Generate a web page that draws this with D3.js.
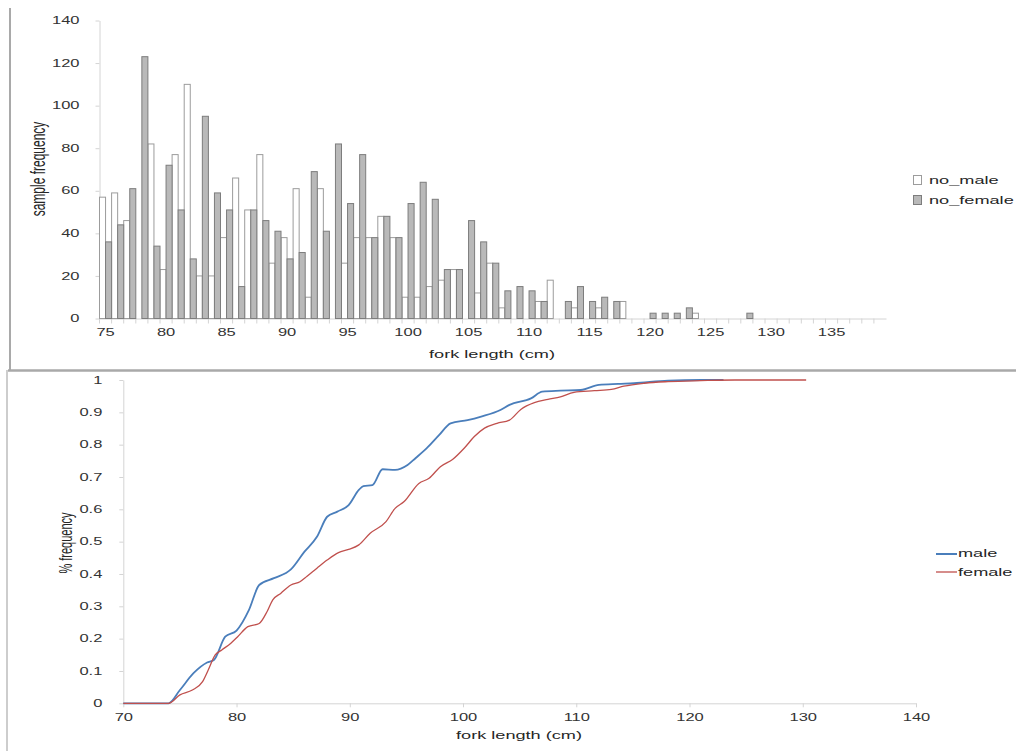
<!DOCTYPE html>
<html>
<head>
<meta charset="utf-8">
<style>
  body { margin: 0; background: #fff; }
  svg { display: block; font-family: "Liberation Sans", Arial, sans-serif; }
  .tick text { fill: #333; }
</style>
</head>
<body>
<svg width="1016" height="751"></svg>

<script src="https://d3js.org/d3.v7.min.js"></script>
<script>
// ---------------- data: top chart (counts per 1 cm fork length class) ----------------
const lenClasses = [75, 76, 77, 78, 79, 80, 81, 82, 83, 84, 85, 86, 87, 88, 89, 90, 91, 92, 93, 94,
  95, 96, 97, 98, 99, 100, 101, 102, 103, 104, 105, 106, 107, 108, 109, 110, 111, 112, 113, 114,
  115, 116, 117, 118, 119, 120, 121, 122, 123, 124, 125, 126, 127, 128, 129, 130, 131, 132, 133, 134,
  135, 136, 137, 138, 139];
const noMale = [57, 59, 46, 0, 82, 23, 77, 110, 20, 20, 38, 66, 51, 77, 26, 38, 61, 10, 61, 0,
  26, 38, 38, 48, 38, 10, 10, 15, 18, 23, 0, 12, 26, 5, 0, 0, 8, 18, 0, 5,
  0, 5, 0, 8, 0, 0, 0, 0, 0, 2.5, 0, 0, 0, 0, 0, 0, 0, 0, 0, 0,
  0, 0, 0, 0, 0];
const noFemale = [36, 44, 61, 123, 34, 72, 51, 28, 95, 59, 51, 15, 51, 46, 41, 28, 31, 69, 41, 82,
  54, 77, 38, 48, 38, 54, 64, 56, 23, 23, 46, 36, 26, 13, 15, 13, 8, 0, 8, 15,
  8, 10, 8, 0, 0, 2.5, 2.5, 2.5, 5, 0, 0, 0, 0, 2.5, 0, 0, 0, 0, 0, 0,
  0, 0, 0, 0, 0];
const countTicks = [0, 20, 40, 60, 80, 100, 120, 140];
const classLabels = [75, 80, 85, 90, 95, 100, 105, 110, 115, 120, 125, 130, 135];

// ---------------- data: bottom chart (cumulative frequency) ----------------
const maleLen = [70, 73, 74, 75, 76.2, 77.4, 78, 79, 80, 81.1, 82, 83.3, 84.8, 86, 87.1, 88, 88.9, 89.9,
  90.8, 91.2, 92, 92.9, 94, 95.1, 95.8, 96.8, 97.9, 98.9, 100.4, 101.6, 103.3, 104.1, 106, 107,
  108.6, 110.4, 112, 113.7, 115.1, 118.1, 121, 123];
const maleCum = [0, 0, 0, 0.041, 0.093, 0.126, 0.134, 0.206, 0.225, 0.289, 0.366, 0.387, 0.414, 0.469, 0.515, 0.577, 0.593, 0.613,
  0.66, 0.672, 0.675, 0.724, 0.722, 0.737, 0.758, 0.789, 0.83, 0.866, 0.876, 0.887, 0.907, 0.923, 0.943, 0.964,
  0.967, 0.969, 0.985, 0.988, 0.99, 0.998, 1, 1];
const femaleLen = [70, 73, 74, 75, 76.1, 77, 77.5, 78.1, 78.7, 79.5, 80.1, 81, 82, 82.7, 83.2, 83.9, 84.8, 85.6,
  86.2, 87.1, 88, 89, 89.9, 90.8, 91.8, 93.2, 94, 94.8, 96.1, 97, 98, 99.1, 100.1, 101, 101.9, 103,
  104.1, 105.1, 106.3, 107.5, 108.6, 109.8, 111.6, 113.1, 114.2, 116, 118.1, 121, 124, 130.3];
const femaleCum = [0, 0, 0, 0.026, 0.041, 0.067, 0.103, 0.149, 0.165, 0.186, 0.206, 0.237, 0.247, 0.284, 0.32, 0.34, 0.366, 0.376,
  0.392, 0.418, 0.443, 0.466, 0.476, 0.49, 0.526, 0.562, 0.603, 0.624, 0.68, 0.696, 0.732, 0.755, 0.789, 0.825, 0.851, 0.866,
  0.876, 0.909, 0.93, 0.94, 0.948, 0.962, 0.967, 0.971, 0.981, 0.99, 0.995, 0.998, 1, 1];
const lenTicks = [70, 80, 90, 100, 110, 120, 130, 140];
const cumTicks = [0, 0.1, 0.2, 0.3, 0.4, 0.5, 0.6, 0.7, 0.8, 0.9, 1];

// the picture is stretched sideways, so text is too
const SX = 1.65;
const axisGrey = "#d4d4d4";

let svg = d3.select("svg");

// helper for stretched free text
function label(g, x, y, txt, size, anchor, rot) {
  return g.append("text")
    .attr("transform", `translate(${x},${y}) scale(${SX},1)` + (rot ? ` rotate(${rot})` : ""))
    .attr("text-anchor", anchor || "start")
    .attr("dominant-baseline", "central")
    .attr("font-size", size)
    .attr("fill", "#262626")
    .text(txt);
}

//---------------- frames ----------------
svg.append("line").attr("x1", 10).attr("x2", 10).attr("y1", 8).attr("y2", 370)
  .attr("stroke", "#a9a9a9").attr("stroke-width", 2);
svg.append("line").attr("x1", 8).attr("x2", 1016).attr("y1", 370.5).attr("y2", 370.5)
  .attr("stroke", "#a9a9a9").attr("stroke-width", 2.5);
svg.append("line").attr("x1", 7).attr("x2", 7).attr("y1", 370).attr("y2", 751)
  .attr("stroke", "#bdbdbd").attr("stroke-width", 1.5);

//================ TOP: histogram ================
let histG = svg.append("g");

let x1 = d3.scaleBand().domain(lenClasses).range([99.5, 886]).padding(0);
let y1 = d3.scaleLinear().domain([0, 140]).range([318.5, 20.5]);

// y axis
histG.append("g")
  .attr("transform", "translate(99.5,0)")
  .call(d3.axisLeft(y1).tickValues(countTicks).tickSize(4).tickSizeOuter(0))
  .call(g => g.selectAll("line, path").attr("stroke", axisGrey))
  .call(g => g.selectAll("text")
    .attr("font-size", 10)
    .attr("x", -20 / SX)
    .attr("transform", `scale(${SX},1)`));

// x axis: labels every 5 cm
histG.append("g")
  .attr("transform", "translate(0,318.5)")
  .call(d3.axisBottom(x1).tickValues(classLabels).tickSize(0).tickPadding(10))
  .call(g => g.select(".domain").attr("stroke", axisGrey))
  .call(g => g.selectAll("text")
    .attr("font-size", 10)
    .attr("transform", `scale(${SX},1)`));

// tick marks between classes
histG.append("g").selectAll("line")
  .data(lenClasses)
  .join("line")
  .attr("x1", d => x1(d)).attr("x2", d => x1(d))
  .attr("y1", 318.5).attr("y2", 323.5)
  .attr("stroke", axisGrey);

let bw = x1.bandwidth() / 2;

// male bars (white)
histG.append("g").selectAll("rect")
  .data(lenClasses.map((c, i) => ({c: c, v: noMale[i]})).filter(d => d.v > 0))
  .join("rect")
  .attr("x", d => x1(d.c))
  .attr("y", d => y1(d.v))
  .attr("width", bw)
  .attr("height", d => y1(0) - y1(d.v))
  .attr("fill", "#ffffff")
  .attr("stroke", "#9c9c9c")
  .attr("stroke-width", 1);

// female bars (grey)
histG.append("g").selectAll("rect")
  .data(lenClasses.map((c, i) => ({c: c, v: noFemale[i]})).filter(d => d.v > 0))
  .join("rect")
  .attr("x", d => x1(d.c) + bw)
  .attr("y", d => y1(d.v))
  .attr("width", bw)
  .attr("height", d => y1(0) - y1(d.v))
  .attr("fill", "#b9b9b9")
  .attr("stroke", "#7d7d7d")
  .attr("stroke-width", 1);

// titles
label(histG, 492, 354, "fork length (cm)", 11, "middle");
label(histG, 38, 169, "sample frequency", 12, "middle", -90);

// legend
histG.append("rect").attr("x", 913.5).attr("y", 175.5).attr("width", 8).attr("height", 9)
  .attr("fill", "#fff").attr("stroke", "#9c9c9c");
histG.append("rect").attr("x", 913.5).attr("y", 195.5).attr("width", 8).attr("height", 9)
  .attr("fill", "#b9b9b9").attr("stroke", "#7d7d7d");
label(histG, 929, 180, "no_male", 11);
label(histG, 929, 200, "no_female", 11);

//================ BOTTOM: cumulative curves ================
let cumG = svg.append("g");

let x2 = d3.scaleLinear().domain([70, 140]).range([123.3, 916]);
let y2 = d3.scaleLinear().domain([0, 1]).range([703.3, 380]);

cumG.append("g")
  .attr("transform", "translate(123.3,0)")
  .call(d3.axisLeft(y2).tickValues(cumTicks).tickFormat(d3.format("~g")).tickSize(4).tickSizeOuter(0))
  .call(g => g.selectAll("line, path").attr("stroke", axisGrey))
  .call(g => g.selectAll("text")
    .attr("font-size", 10)
    .attr("x", -21 / SX)
    .attr("transform", `scale(${SX},1)`));

cumG.append("g")
  .attr("transform", "translate(0,703.3)")
  .call(d3.axisBottom(x2).tickValues(lenTicks).tickSize(4).tickSizeOuter(0).tickPadding(7))
  .call(g => g.selectAll("line, path").attr("stroke", axisGrey))
  .call(g => g.selectAll("text")
    .attr("font-size", 10)
    .attr("transform", `scale(${SX},1)`));

let line = d3.line()
  .x(d => x2(d[0]))
  .y(d => y2(d[1]))
  .curve(d3.curveMonotoneX);

cumG.append("path")
  .attr("d", line(maleLen.map((v, i) => [v, maleCum[i]])))
  .attr("fill", "none")
  .attr("stroke", "#4a7ebb")
  .attr("stroke-width", 1.8);

cumG.append("path")
  .attr("d", line(femaleLen.map((v, i) => [v, femaleCum[i]])))
  .attr("fill", "none")
  .attr("stroke", "#c0504d")
  .attr("stroke-width", 1.3);

label(cumG, 519, 735, "fork length (cm)", 11, "middle");
label(cumG, 65, 543, "% frequency", 11, "middle", -90);

// legend
cumG.append("line").attr("x1", 936).attr("x2", 957).attr("y1", 554).attr("y2", 554)
  .attr("stroke", "#4a7ebb").attr("stroke-width", 2);
cumG.append("line").attr("x1", 936).attr("x2", 957).attr("y1", 572).attr("y2", 572)
  .attr("stroke", "#c0504d").attr("stroke-width", 1.3);
label(cumG, 958, 553, "male", 11);
label(cumG, 958, 572, "female", 11);
</script>
</body>
</html>
